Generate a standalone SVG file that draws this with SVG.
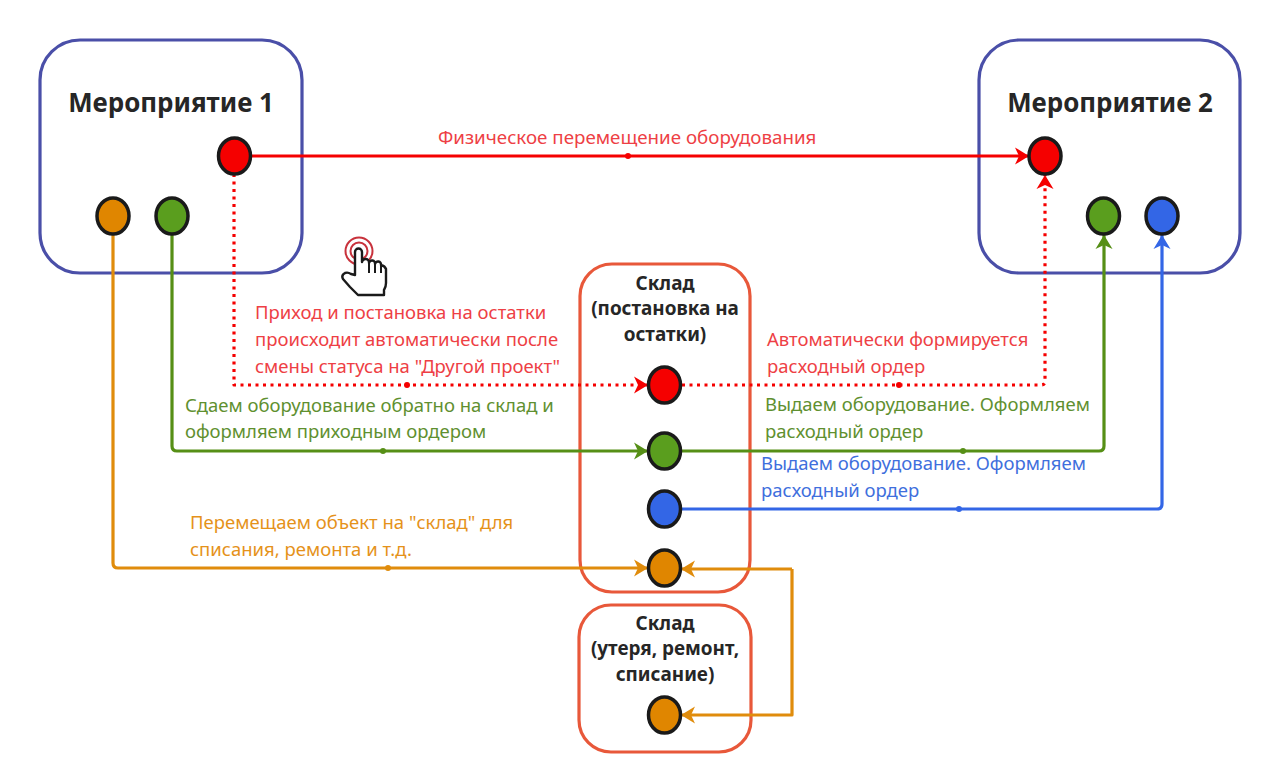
<svg xmlns="http://www.w3.org/2000/svg" width="1280" height="778" viewBox="0 0 1280 778">
<style>
text{font-family:"Noto Sans","Open Sans",sans-serif}
.box{fill:#fff;stroke-width:3.200}
.ev{stroke:#4a4fa8}
.wh{stroke:#e8583a}
.title{font-size:25.900px;font-weight:700;fill:#262626;text-anchor:middle}
.head{font-size:18.900px;font-weight:700;fill:#262626;text-anchor:middle}
.lab{font-size:18.500px}
.top{font-size:18.750px}
.dot{stroke:#1a1a1a;stroke-width:3.500}
.c{fill:none;stroke-width:3.200;stroke-linejoin:round}
.r{stroke:#f50000;fill:none}.rf{fill:#f50000}
.g{stroke:#568f16}.gf{fill:#568f16}
.b{stroke:#3366e6}.bf{fill:#3366e6}
.o{stroke:#e08c0c}.of{fill:#e08c0c}
.red{fill:#ee3f45}.grn{fill:#5f9030}.blu{fill:#3f6fdd}.org{fill:#e5921a}
</style>
<defs>
<marker id="ar" markerUnits="userSpaceOnUse" markerWidth="20" markerHeight="22" refX="17" refY="11" orient="auto"><path d="M3 2.500L17 11L3 19.500L7 11Z" fill="#f50000"/></marker>
<marker id="ag" markerUnits="userSpaceOnUse" markerWidth="20" markerHeight="22" refX="17" refY="11" orient="auto"><path d="M3 2.500L17 11L3 19.500L7 11Z" fill="#568f16"/></marker>
<marker id="ab" markerUnits="userSpaceOnUse" markerWidth="20" markerHeight="22" refX="17" refY="11" orient="auto"><path d="M3 2.500L17 11L3 19.500L7 11Z" fill="#3366e6"/></marker>
<marker id="ao" markerUnits="userSpaceOnUse" markerWidth="20" markerHeight="22" refX="17" refY="11" orient="auto"><path d="M3 2.500L17 11L3 19.500L7 11Z" fill="#e08c0c"/></marker>
</defs>
<g id="event1"><rect class="box ev" x="40" y="40" width="262" height="233" rx="40"/><text class="title" x="171" y="112">Мероприятие 1</text></g>
<g id="event2"><rect class="box ev" x="979" y="40" width="261" height="233" rx="40"/><text class="title" x="1110" y="112">Мероприятие 2</text></g>
<g id="warehouse1"><rect class="box wh" x="580" y="264" width="170" height="328" rx="32"/><text class="head" x="665" y="290">Склад</text><text class="head" x="665" y="315">(постановка на</text><text class="head" x="665" y="341">остатки)</text></g>
<g id="warehouse2"><rect class="box wh" x="579" y="605" width="172" height="147" rx="32"/><text class="head" x="665" y="630">Склад</text><text class="head" x="665" y="655">(утеря, ремонт,</text><text class="head" x="665" y="681">списание)</text></g>
<g id="connectors">
<path class="c r" d="M251 156H1029" marker-end="url(#ar)"/>
<path class="c r" stroke-dasharray="3 4.500" d="M234 174V385H648" marker-end="url(#ar)"/>
<path class="c r" stroke-dasharray="3 4.500" d="M682 385H1041Q1045 385 1045 381V175" marker-end="url(#ar)"/>
<path class="c g" d="M172 234V446Q172 451 177 451H648" marker-end="url(#ag)"/>
<path class="c g" d="M682 451H1099Q1104 451 1104 446V235" marker-end="url(#ag)"/>
<path class="c b" d="M682 509H1157Q1162 509 1162 504V235" marker-end="url(#ab)"/>
<path class="c o" d="M113 234V563Q113 568 118 568H648" marker-end="url(#ao)"/>
<path class="c o" d="M792 569H681" marker-end="url(#ao)"/>
<path class="c o" d="M792 569V715H681" marker-end="url(#ao)"/>
<g><circle class="rf" cx="628" cy="156" r="3"/><circle class="rf" cx="407" cy="385" r="3"/><circle class="rf" cx="899" cy="385" r="3"/><circle class="gf" cx="383" cy="451" r="3"/><circle class="gf" cx="963" cy="451" r="3"/><circle class="bf" cx="959" cy="509" r="3"/><circle class="of" cx="388" cy="568" r="3"/></g>
</g>
<g id="labels">
<text class="top red" x="438" y="144">Физическое перемещение оборудования</text>
<text class="lab red" x="255" y="319">Приход и постановка на остатки</text>
<text class="lab red" x="255" y="346">происходит автоматически после</text>
<text class="lab red" x="255" y="373">смены статуса на "Другой проект"</text>
<text class="lab red" x="767" y="346">Автоматически формируется</text>
<text class="lab red" x="767" y="373">расходный ордер</text>
<text class="lab grn" x="185" y="412">Сдаем оборудование обратно на склад и</text>
<text class="lab grn" x="185" y="438">оформляем приходным ордером</text>
<text class="lab grn" x="765" y="411">Выдаем оборудование. Оформляем</text>
<text class="lab grn" x="765" y="438">расходный ордер</text>
<text class="lab blu" x="761" y="470">Выдаем оборудование. Оформляем</text>
<text class="lab blu" x="761" y="497">расходный ордер</text>
<text class="lab org" x="190" y="529">Перемещаем объект на "склад" для</text>
<text class="lab org" x="190" y="556">списания, ремонта и т.д.</text>
</g>
<g id="n-e1-orange"><ellipse class="dot" cx="113" cy="216" rx="16" ry="18" fill="#e08600"/></g>
<g id="n-e1-green"><ellipse class="dot" cx="172" cy="216" rx="16" ry="18" fill="#5a9e1e"/></g>
<g id="n-e1-red"><ellipse class="dot" cx="234.500" cy="156" rx="16" ry="18" fill="#f50000"/></g>
<g id="n-e2-red"><ellipse class="dot" cx="1045" cy="156" rx="16" ry="18" fill="#f50000"/></g>
<g id="n-e2-green"><ellipse class="dot" cx="1103.500" cy="216" rx="16" ry="18" fill="#5a9e1e"/></g>
<g id="n-e2-blue"><ellipse class="dot" cx="1162" cy="216" rx="16" ry="18" fill="#3366e6"/></g>
<g id="n-w1-red"><ellipse class="dot" cx="664.500" cy="385" rx="16" ry="18" fill="#f50000"/></g>
<g id="n-w1-green"><ellipse class="dot" cx="664.500" cy="451" rx="16" ry="18" fill="#5a9e1e"/></g>
<g id="n-w1-blue"><ellipse class="dot" cx="664.500" cy="509" rx="16" ry="18" fill="#3366e6"/></g>
<g id="n-w1-orange"><ellipse class="dot" cx="664.500" cy="568" rx="16" ry="18" fill="#e08600"/></g>
<g id="n-w2-orange"><ellipse class="dot" cx="664.500" cy="715" rx="16" ry="18" fill="#e08600"/></g>
<g id="pointer">
<circle cx="359" cy="251" r="13.500" fill="none" stroke="#c8323c" stroke-width="2"/>
<circle cx="359" cy="251" r="8.500" fill="none" stroke="#c8323c" stroke-width="2"/>
<path d="M355 275V252a3.500 3.500 0 0 1 7 0V262a3 3 0 0 1 7 1a3 3 0 0 1 6 1a3 3 0 0 1 6 1q4 1 5 4V283q0 4-2 7V295H358L350 287L343 279q-2-4 2-6q3-1 6 1Z" fill="#fff" stroke="#1a1a1a" stroke-width="2.400" stroke-linejoin="round"/>
<path d="M369 263V273M375 264V273M381 265V273" stroke="#1a1a1a" stroke-width="2" fill="none"/>
</g>
</svg>
